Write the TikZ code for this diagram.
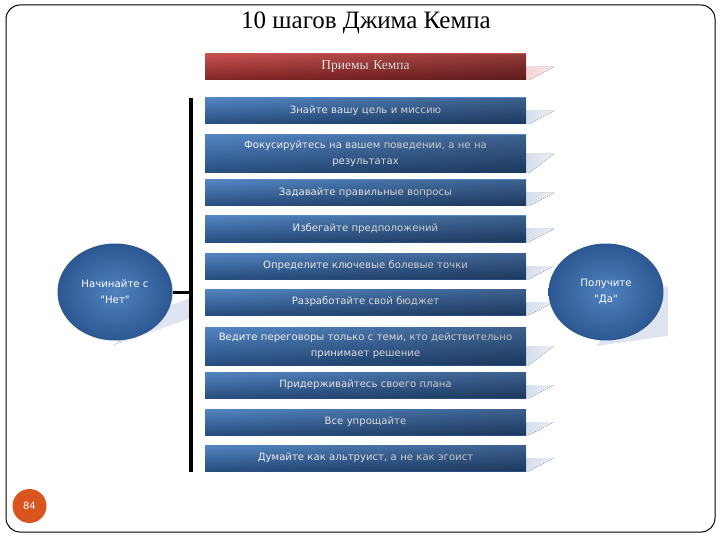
\documentclass[tikz,border=0pt]{standalone}
\usepackage{fontspec}
\setmainfont{Liberation Serif}
\newfontfamily\boxfont{DejaVu Sans}
\usetikzlibrary{fadings,shapes.geometric}
\definecolor{bluetop}{RGB}{84,134,196}
\definecolor{bluebot}{RGB}{40,78,128}
\definecolor{redtop}{RGB}{200,82,80}
\definecolor{redbot}{RGB}{130,36,38}
\definecolor{shadowblue}{RGB}{214,222,236}
\definecolor{shadowred}{RGB}{244,212,214}
\definecolor{pagered}{RGB}{217,84,30}
\definecolor{circin}{RGB}{80,130,192}
\definecolor{circout}{RGB}{44,88,146}
\tikzfading[name=darkright, left color=transparent!100, right color=transparent!0]
\begin{document}
\begin{tikzpicture}[x=1pt,y=-1pt,
  stepbox/.style={rectangle, minimum width=321pt, inner sep=0pt, top color=bluetop, bottom color=bluebot,
    text=white, font=\boxfont\fontsize{10.1}{16}\selectfont, align=center, text width=318pt},
  headbox/.style={stepbox, top color=redtop, bottom color=redbot, font=\fontsize{13.5}{16}\selectfont},
  roundbox/.style={ellipse, minimum width=115pt, minimum height=97pt, inner sep=0pt, inner color=circin, outer color=circout,
    text=white, font=\boxfont\fontsize{10.2}{16}\selectfont, align=center},
  floorshadow/.style={left color=#1, right color=white!50!#1},
  darken/.style={black, opacity=.28, path fading=darkright}
]
\useasboundingbox (0,0) rectangle (720,540);
% frame
\draw[line width=1pt, rounded corners=14pt] (6,5) rectangle (715,532);
% title
\node[font=\fontsize{25}{28}\selectfont] (title) at (366,23) {10 шагов Джима Кемпа};
% header
\fill[floorshadow=shadowred] (526,67) -- (554,67) -- (529,80) -- (526,80) -- cycle;
\node[headbox, minimum height=26pt] (head) at (365.5,67) {Приемы Кемпа};
\fill[darken] (head.north west) rectangle (head.south east);
% step boxes
\foreach \n/\c/\h/\t in {
  b1/111/26/{Знайте вашу цель и миссию},
  b2/154/38/{Фокусируйтесь на вашем поведении, а не на\\результатах},
  b3/193/26/{Задавайте правильные вопросы},
  b4/229/26/{Избегайте предположений},
  b5/266/26/{Определите ключевые болевые точки},
  b6/302/26/{Разработайте свой бюджет},
  b7/346/38/{Ведите переговоры только с теми, кто действительно\\принимает решение},
  b8/385/26/{Придерживайтесь своего плана},
  b9/422/26/{Все упрощайте},
  b10/458/26/{Думайте как альтруист, а не как эгоист}} {
  \fill[floorshadow=shadowblue] (526,\c) -- (554,\c) -- (529,\c+\h/2) -- (526,\c+\h/2) -- cycle;
  \node[stepbox, minimum height=\h pt] (\n) at (365.5,\c) {\t};
  \fill[darken] (\n.north west) rectangle (\n.south east);
}
% circle shadows
\fill[shadowblue!80] (150,312) -- (191,298) -- (191,318) -- (112,346) -- cycle;
\fill[shadowblue!80] (640,296) -- (668,286) -- (668,336) -- (596,346) -- cycle;
% circles
\node[roundbox] (start) at (115,292) {Начинайте с\\"Нет"};
\node[roundbox] (finish) at (606,292) {Получите\\"Да"};
% bar and connector
\coordinate (bartop) at (191,98);
\coordinate (barbot) at (191,472);
\draw[line width=3.5pt] (bartop) -- (barbot);
\draw[line width=3pt] (start.east) -- (start.east -| bartop);
% page number
\node[circle, fill=pagered, minimum size=34pt, inner sep=0pt, text=white, font=\boxfont\fontsize{10}{12}\selectfont] (page) at (29.5,506) {84};
\end{tikzpicture}
\end{document}
